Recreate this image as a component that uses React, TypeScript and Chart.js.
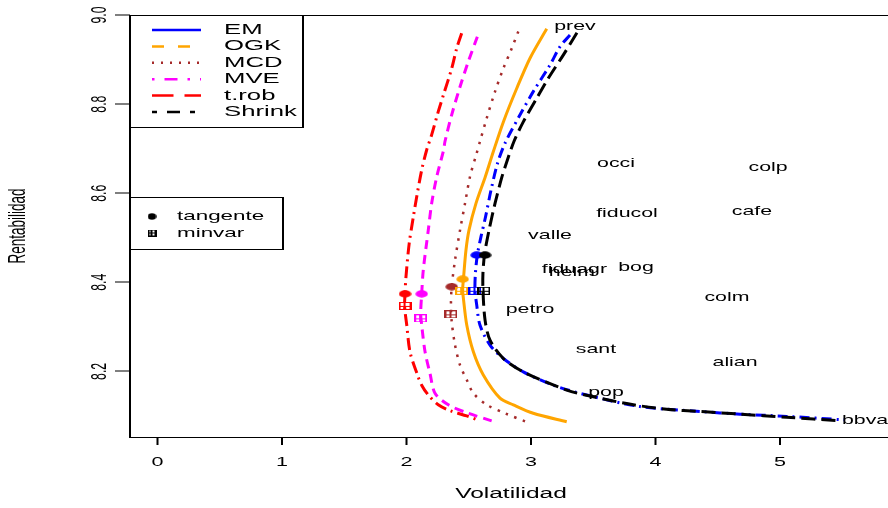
import React, { useEffect, useRef } from "react";
import { Chart, registerables } from "chart.js";

Chart.register(...registerables);

// ---------- data ----------
const seriesNames = ["EM", "OGK", "MCD", "MVE", "t.rob", "Shrink"];

const emVol = [3.313, 3.233, 3.153, 3.018, 2.912, 2.791, 2.731, 2.679, 2.635, 2.598, 2.57, 2.554, 2.55, 2.564, 2.59, 2.671, 2.778, 2.938, 3.179, 3.447, 3.876, 4.357, 4.679, 5.054, 5.52];
const emRet = [8.955, 8.929, 8.888, 8.828, 8.776, 8.712, 8.667, 8.607, 8.547, 8.502, 8.463, 8.422, 8.383, 8.349, 8.304, 8.259, 8.229, 8.199, 8.169, 8.147, 8.121, 8.11, 8.104, 8.099, 8.091];

const ogkVol = [3.126, 2.992, 2.885, 2.778, 2.697, 2.633, 2.558, 2.502, 2.478, 2.459, 2.451, 2.457, 2.484, 2.537, 2.617, 2.751, 2.858, 3.018, 3.287];
const ogkRet = [8.969, 8.903, 8.835, 8.76, 8.693, 8.637, 8.577, 8.517, 8.473, 8.413, 8.383, 8.364, 8.304, 8.244, 8.192, 8.14, 8.125, 8.106, 8.087];

const mcdVol = [2.898, 2.845, 2.778, 2.711, 2.644, 2.59, 2.564, 2.51, 2.47, 2.43, 2.39, 2.363, 2.357, 2.363, 2.39, 2.43, 2.484, 2.537, 2.644, 2.791, 2.968];
const mcdRet = [8.963, 8.925, 8.88, 8.828, 8.768, 8.716, 8.69, 8.637, 8.577, 8.517, 8.45, 8.39, 8.35, 8.312, 8.259, 8.214, 8.181, 8.151, 8.125, 8.106, 8.086];

const mveVol = [2.569, 2.496, 2.43, 2.363, 2.309, 2.298, 2.243, 2.202, 2.175, 2.135, 2.122, 2.114, 2.122, 2.149, 2.189, 2.229, 2.336, 2.496, 2.684];
const mveRet = [8.951, 8.895, 8.839, 8.776, 8.716, 8.697, 8.637, 8.577, 8.517, 8.428, 8.374, 8.33, 8.304, 8.244, 8.195, 8.151, 8.125, 8.106, 8.089];

const trobVol = [2.443, 2.403, 2.363, 2.296, 2.255, 2.202, 2.162, 2.122, 2.082, 2.055, 2.022, 1.996, 1.988, 1.985, 2.002, 2.028, 2.087, 2.122, 2.175, 2.255, 2.349, 2.484, 2.574];
const trobRet = [8.959, 8.925, 8.88, 8.82, 8.783, 8.731, 8.697, 8.652, 8.592, 8.547, 8.488, 8.413, 8.374, 8.345, 8.304, 8.244, 8.193, 8.169, 8.147, 8.125, 8.112, 8.1, 8.091];

const shrinkVol = [3.369, 3.259, 3.139, 3.046, 2.938, 2.863, 2.811, 2.767, 2.711, 2.663, 2.627, 2.614, 2.614, 2.631, 2.671, 2.778, 2.938, 3.287, 3.5, 3.822, 4.09, 4.357, 4.679, 5.054, 5.482];
const shrinkRet = [8.96, 8.91, 8.858, 8.813, 8.76, 8.716, 8.675, 8.637, 8.577, 8.517, 8.463, 8.42, 8.383, 8.315, 8.27, 8.229, 8.199, 8.158, 8.143, 8.125, 8.115, 8.11, 8.104, 8.097, 8.089];

// tangent and minimum-variance portfolios, in seriesNames order
const tanVol = [2.564, 2.451, 2.363, 2.122, 1.988, 2.631];
const tanRet = [8.461, 8.407, 8.39, 8.374, 8.374, 8.461];
const minVol = [2.55, 2.443, 2.357, 2.114, 1.988, 2.622];
const minRet = [8.381, 8.381, 8.328, 8.319, 8.347, 8.381];

const assetNames = ["prev", "occi", "colp", "fiducol", "cafe", "valle", "fiduagr", "helm", "bog", "colm", "petro", "sant", "alian", "pop", "bbva"];
const assetVol = [3.353, 3.683, 4.904, 3.771, 4.775, 3.153, 3.349, 3.329, 3.843, 4.574, 2.992, 3.522, 4.639, 3.602, 5.683];
const assetRet = [8.973, 8.666, 8.657, 8.553, 8.558, 8.504, 8.428, 8.421, 8.434, 8.365, 8.338, 8.248, 8.219, 8.152, 8.089];

const xTickValues = [0, 1, 2, 3, 4, 5];
const xTickLabels = ["0", "1", "2", "3", "4", "5"];
const yTickValues = [8.2, 8.4, 8.6, 8.8, 9.0];
const yTickLabels = ["8.2", "8.4", "8.6", "8.8", "9.0"];
const xTitle = "Volatilidad";
const yTitle = "Rentabilidad";
const pointLegendLabels = ["tangente", "minvar"];

// ---------- styles ----------
const W = 888;
const H = 508;
const SX = 1.75; // horizontal text stretch of the original
const FONT = '"Liberation Sans", Arial, Helvetica, sans-serif';
const colors = ["#0000FF", "#FFA500", "#A52A2A", "#FF00FF", "#FF0000", "#000000"];
const curveDash = [[10, 5, 2, 5], [], [2.5, 6.5], [9, 6], [12, 5, 2, 5], [14, 6]];
const curveWidth = [3, 3, 2.5, 3, 3, 3];
const legendDash = [[], [12, 14], [2, 7], [2.5, 10, 13, 10], [21.5, 11], [5, 10, 13, 10]];

const zip = (xs: number[], ys: number[]) => xs.map((x, i) => ({ x, y: ys[i] }));

function ellipseImg(color: string, w: number, h: number) {
  const c = document.createElement("canvas");
  c.width = w;
  c.height = h;
  const g = c.getContext("2d")!;
  g.fillStyle = color;
  g.beginPath();
  g.ellipse(w / 2, h / 2, w / 2 - 0.3, h / 2 - 0.3, 0, 0, Math.PI * 2);
  g.fill();
  return c;
}

function boxPlusImg(color: string, w: number, h: number) {
  const c = document.createElement("canvas");
  c.width = w;
  c.height = h;
  const g = c.getContext("2d")!;
  g.fillStyle = color;
  g.fillRect(0, 0, w, 1);
  g.fillRect(0, h - 1, w, 1);
  g.fillRect(0, 0, 2, h);
  g.fillRect(w - 2, 0, 2, h);
  g.fillRect(Math.floor(w / 2) - 1, 0, 2, h);
  g.fillRect(0, Math.floor(h / 2), w, 1);
  return c;
}

function sText(ctx: CanvasRenderingContext2D, text: string, x: number, y: number, size: number, align: CanvasTextAlign = "center", rotate = false) {
  ctx.save();
  ctx.translate(x, y);
  ctx.scale(SX, 1);
  if (rotate) ctx.rotate(-Math.PI / 2);
  ctx.font = `${size}px ${FONT}`;
  ctx.textAlign = align;
  ctx.textBaseline = "middle";
  ctx.fillStyle = "#000";
  ctx.fillText(text, 0, 0);
  ctx.restore();
}

const decor = {
  id: "decor",
  afterDatasetsDraw(chart: any) {
    const ctx: CanvasRenderingContext2D = chart.ctx;
    const xs = chart.scales.x;
    const ys = chart.scales.y;
    assetNames.forEach((n, i) => {
      sText(ctx, n, xs.getPixelForValue(assetVol[i]), ys.getPixelForValue(assetRet[i]), 12.2);
    });
  },
  afterDraw(chart: any) {
    const ctx: CanvasRenderingContext2D = chart.ctx;
    const a = chart.chartArea;
    const xs = chart.scales.x;
    const ys = chart.scales.y;
    ctx.save();
    ctx.fillStyle = "#000";
    // box (right side falls outside the picture)
    ctx.fillRect(a.left - 1, a.top, a.right - a.left + 1, 1);
    ctx.fillRect(a.left - 1, a.bottom, a.right - a.left + 1, 1);
    ctx.fillRect(a.left - 1, a.top, 2, a.bottom - a.top + 1);
    // x axis
    xTickValues.forEach((v, i) => {
      const px = xs.getPixelForValue(v);
      ctx.fillStyle = "#000";
      ctx.fillRect(px - 1, a.bottom, 2, 8);
      sText(ctx, xTickLabels[i], px, a.bottom + 26, 12.3);
    });
    // y axis
    yTickValues.forEach((v, i) => {
      const py = ys.getPixelForValue(v);
      ctx.fillStyle = "#000";
      ctx.fillRect(a.left - 15, Math.round(py) - 0.5, 15, 1);
      sText(ctx, yTickLabels[i], a.left - 30, py, 12.3, "center", true);
    });
    sText(ctx, xTitle, 511, 494, 14);
    sText(ctx, yTitle, 18.5, (a.top + a.bottom) / 2, 13.5, "center", true);

    // legend 1 (lines)
    const l1 = { x: a.left, y: a.top, w: 173, h: 112 };
    ctx.fillStyle = "#fff";
    ctx.fillRect(l1.x, l1.y, l1.w, l1.h);
    ctx.fillStyle = "#000";
    ctx.fillRect(l1.x - 1, l1.y, 2, l1.h);
    ctx.fillRect(l1.x + l1.w - 1, l1.y, 2, l1.h + 1);
    ctx.fillRect(l1.x - 1, l1.y + l1.h, l1.w + 1, 1);
    ctx.fillRect(l1.x - 1, l1.y, l1.w + 1, 1);
    seriesNames.forEach((n, i) => {
      const y = l1.y + 15 + i * 16.4;
      ctx.save();
      ctx.strokeStyle = colors[i];
      ctx.lineWidth = 2.5;
      ctx.lineCap = "butt";
      ctx.setLineDash(legendDash[i]);
      ctx.beginPath();
      ctx.moveTo(l1.x + 22, y);
      ctx.lineTo(l1.x + 71, y);
      ctx.stroke();
      ctx.restore();
      sText(ctx, n, l1.x + 94, y, 14.7, "left");
    });

    // legend 2 (points)
    const l2 = { x: a.left, y: 197, w: 153, h: 52 };
    ctx.fillStyle = "#fff";
    ctx.fillRect(l2.x, l2.y, l2.w, l2.h);
    ctx.fillStyle = "#000";
    ctx.fillRect(l2.x - 1, l2.y, l2.w + 1, 1);
    ctx.fillRect(l2.x - 1, l2.y + l2.h, l2.w + 1, 1);
    ctx.fillRect(l2.x - 1, l2.y, 2, l2.h + 1);
    ctx.fillRect(l2.x + l2.w - 1, l2.y, 2, l2.h + 1);
    const e = ellipseImg("#000", 9, 7);
    const b = boxPlusImg("#000", 9, 7);
    ctx.drawImage(e, l2.x + 22 - 4.5, l2.y + 19.5 - 3.5);
    ctx.drawImage(b, l2.x + 22 - 4.5, l2.y + 36 - 3.5);
    sText(ctx, pointLegendLabels[0], l2.x + 47, l2.y + 19.5, 12.8, "left");
    sText(ctx, pointLegendLabels[1], l2.x + 47, l2.y + 36, 12.8, "left");
    ctx.restore();
  },
};

export default function App() {
  const ref = useRef<HTMLCanvasElement>(null);
  useEffect(() => {
    const canvas = ref.current!;
    const vols = [emVol, ogkVol, mcdVol, mveVol, trobVol, shrinkVol];
    const rets = [emRet, ogkRet, mcdRet, mveRet, trobRet, shrinkRet];
    const curveSets = seriesNames.map((n, i) => ({
      label: n,
      data: zip(vols[i], rets[i]),
      showLine: true,
      borderColor: colors[i],
      backgroundColor: colors[i],
      borderWidth: curveWidth[i],
      borderDash: curveDash[i],
      borderCapStyle: "butt",
      pointRadius: 0,
      tension: 0.3,
      fill: false,
      order: 7 - i,
    }));
    const tanImgs = colors.map((c) => ellipseImg(c, 13, 8));
    const minImgs = colors.map((c) => boxPlusImg(c, 13, 8));
    const pointSets = [
      { label: "minvar", data: zip(minVol, minRet), pointStyle: minImgs, pointRadius: 5, showLine: false, order: 0 },
      { label: "tangente", data: zip(tanVol, tanRet), pointStyle: tanImgs, pointRadius: 5, showLine: false, order: 0 },
    ];
    const chart = new Chart(canvas, {
      type: "scatter",
      data: { datasets: [...(pointSets as any[]), ...(curveSets as any[])] },
      options: {
        responsive: false,
        animation: false,
        devicePixelRatio: 1,
        events: [],
        layout: { autoPadding: false, padding: { left: 130, top: 15, right: 0, bottom: 71 } },
        plugins: { legend: { display: false }, tooltip: { enabled: false } },
        scales: {
          x: { type: "linear", min: -0.2209, max: 5.8675, display: false },
          y: { type: "linear", min: 8.0527, max: 9.0, display: false },
        },
      },
      plugins: [decor as any],
    });
    return () => chart.destroy();
  }, []);
  return (
    <div style={{ position: "fixed", left: 0, top: 0, width: W, height: H, background: "#fff", overflow: "hidden" }}>
      <canvas ref={ref} width={W} height={H} style={{ display: "block", width: W, height: H }} />
    </div>
  );
}
